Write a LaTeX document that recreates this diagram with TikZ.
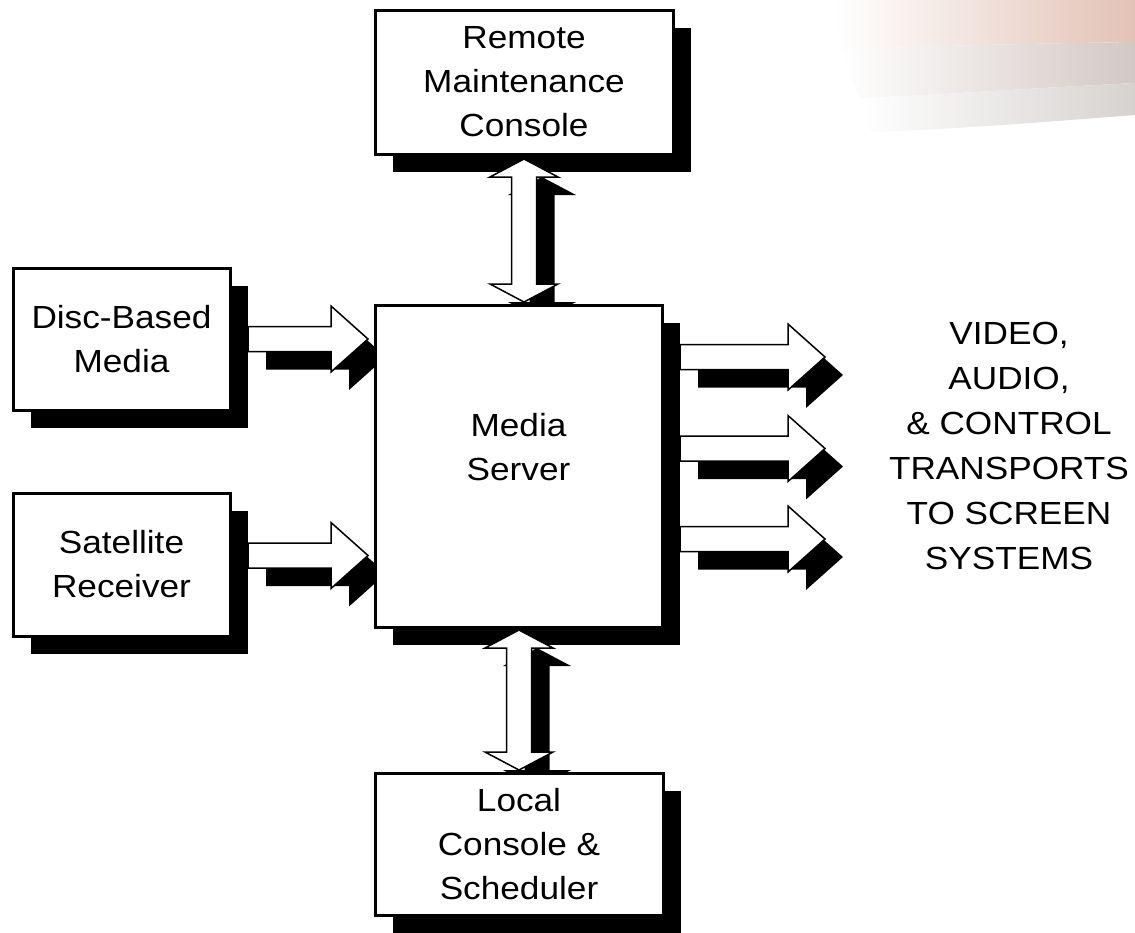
\documentclass[tikz,border=0pt]{standalone}
\usepackage{fontspec}
\setmainfont{Liberation Sans}[FakeStretch=1.1]
\usetikzlibrary{calc}
\pgfdeclarelayer{bg}
\pgfdeclarelayer{mid}
\pgfsetlayers{bg,mid,main}
\definecolor{swpink}{RGB}{226,194,182}
\definecolor{swgrey}{RGB}{210,200,196}
\definecolor{swlight}{RGB}{214,210,208}
% horizontal fat arrow: #1 start, #2 tip, #3 style, #4 offset
\newcommand\hfat[4]{%
  \path[#3] let \p1=(#1), \p2=(#2), \p3=#4 in
   (\x1+\x3,\y1+12.5pt+\y3) -- (\x2-37pt+\x3,\y1+12.5pt+\y3) -- (\x2-37pt+\x3,\y1+33pt+\y3)
   -- (\x2+\x3,\y1+\y3) -- (\x2-37pt+\x3,\y1-33pt+\y3) -- (\x2-37pt+\x3,\y1-12.5pt+\y3)
   -- (\x1+\x3,\y1-12.5pt+\y3) -- cycle;}
% vertical double fat arrow: #1 top tip, #2 bottom tip, #3 style, #4 offset
\newcommand\vfat[4]{%
  \path[#3] let \p1=(#1), \p2=(#2), \p3=#4 in
   (\x1+\x3,\y1+\y3) -- (\x1+34pt+\x3,\y1-18pt+\y3) -- (\x1+12.5pt+\x3,\y1-18pt+\y3)
   -- (\x1+12.5pt+\x3,\y2+18pt+\y3) -- (\x1+34pt+\x3,\y2+18pt+\y3) -- (\x1+\x3,\y2+\y3)
   -- (\x1-34pt+\x3,\y2+18pt+\y3) -- (\x1-12.5pt+\x3,\y2+18pt+\y3)
   -- (\x1-12.5pt+\x3,\y1-18pt+\y3) -- (\x1-34pt+\x3,\y1-18pt+\y3) -- cycle;}
\begin{document}
\begin{tikzpicture}[x=1pt,y=-1pt,
  box/.style={draw=black, line width=3pt, fill=white, align=center, inner sep=0pt,
    outer sep=0pt, font=\fontsize{32}{44}\selectfont},
  lbl/.style={align=center, inner sep=0pt, font=\fontsize{32}{44}\selectfont},
  outlbl/.style={align=center, inner sep=0pt, font=\fontsize{32}{45}\selectfont},
  fatw/.style={draw=black, line width=1.5pt, fill=white, line join=miter},
  fatb/.style={fill=black},
  boxshadow/.style={fill=black}]
\useasboundingbox (0,0) rectangle (1135,932);

% boxes
\node[box, minimum width=298pt, minimum height=144pt] (remote) at (524,82) {Remote\\Maintenance\\Console};
\node[box, minimum width=217pt, minimum height=142pt] (disc) at (121.5,339) {Disc-Based\\Media};
\node[box, minimum width=217pt, minimum height=143pt] (sat) at (121.5,564.5) {Satellite\\Receiver};
\node[box, minimum width=287pt, minimum height=322pt] (server) at (518.5,466) {};
\node[lbl] (servertxt) at (518.5,447) {Media\\Server};
\node[box, minimum width=288pt, minimum height=142pt] (local) at (519,844) {Local\\Console \&\\Scheduler};
\node[outlbl] (out) at (1009,446) {VIDEO,\\AUDIO,\\\& CONTROL\\TRANSPORTS\\TO SCREEN\\SYSTEMS};

% connector end points
\coordinate (dA) at ($(disc.east)+(18pt,0pt)$);
\coordinate (dB) at ($(server.west |- disc.east)+(-7pt,0pt)$);
\coordinate (sA) at ($(sat.east)+(18pt,9pt)$);
\coordinate (sB) at ($(server.west |- sA)+(-7pt,0pt)$);
\coordinate (o1A) at ($(server.east)+(18pt,109pt)$);
\coordinate (o1B) at ($(o1A)+(145pt,0pt)$);
\coordinate (o2A) at ($(server.east)+(18pt,17.5pt)$);
\coordinate (o2B) at ($(o2A)+(145pt,0pt)$);
\coordinate (o3A) at ($(server.east)+(18pt,-73pt)$);
\coordinate (o3B) at ($(o3A)+(145pt,0pt)$);
\coordinate (tA) at ($(remote.south)+(0pt,-5pt)$);
\coordinate (tB) at ($(server.north -| remote.south)+(0pt,3pt)$);
\coordinate (bA) at ($(server.south -| local.north)+(0pt,-3pt)$);
\coordinate (bB) at ($(local.north)+(0pt,3pt)$);

\begin{pgfonlayer}{bg}
  % decorative swoosh
  \shade[left color=white, right color=swpink] (835,0) -- (1135,0) -- (1135,42)
    .. controls (1000,44) and (900,47) .. (840,50) -- cycle;
  \shade[left color=white, right color=swgrey] (840,50) .. controls (900,47) and (1000,44) .. (1135,42)
    -- (1135,83) .. controls (1000,90) and (920,96) .. (860,98) -- cycle;
  \shade[left color=white, right color=swlight] (860,98) .. controls (920,96) and (1000,90) .. (1135,83)
    -- (1135,115) .. controls (1020,124) and (940,130) .. (870,132) -- cycle;
  % box shadows
  \foreach \n in {remote,disc,sat,server,local}
    \fill[boxshadow] ($(\n.south west)+(18pt,-18pt)$) rectangle ($(\n.north east)+(18pt,-18pt)$);
  % arrow shadows
  \hfat{dA}{dB}{fatb}{(18pt,-18pt)}
  \hfat{sA}{sB}{fatb}{(18pt,-18pt)}
  \hfat{o1A}{o1B}{fatb}{(18pt,-18pt)}
  \hfat{o2A}{o2B}{fatb}{(18pt,-18pt)}
  \hfat{o3A}{o3B}{fatb}{(18pt,-18pt)}
  \vfat{tA}{tB}{fatb}{(18pt,-18pt)}
  \vfat{bA}{bB}{fatb}{(18pt,-18pt)}
\end{pgfonlayer}
\begin{pgfonlayer}{mid}
  \hfat{dA}{dB}{fatw}{(0pt,0pt)}
  \hfat{sA}{sB}{fatw}{(0pt,0pt)}
  \hfat{o1A}{o1B}{fatw}{(0pt,0pt)}
  \hfat{o2A}{o2B}{fatw}{(0pt,0pt)}
  \hfat{o3A}{o3B}{fatw}{(0pt,0pt)}
  \vfat{tA}{tB}{fatw}{(0pt,0pt)}
  \vfat{bA}{bB}{fatw}{(0pt,0pt)}
\end{pgfonlayer}
\end{tikzpicture}
\end{document}
